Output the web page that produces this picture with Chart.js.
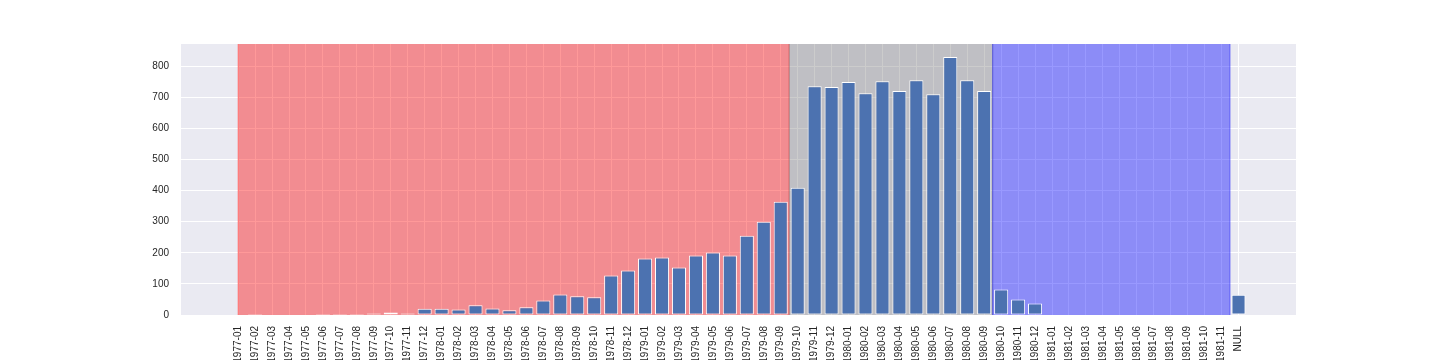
<!DOCTYPE html>
<html>
<head>
<meta charset="utf-8">
<script src="https://cdn.jsdelivr.net/npm/chart.js@4/dist/chart.umd.min.js"></script>
<style>
  html, body { margin: 0; padding: 0; background: #fff; overflow: hidden; }
  #wrap { width: 1440px; height: 360px; }
</style>
</head>
<body>
<div id="wrap"><canvas id="monthChart"></canvas></div>
<script>
const months = [
  '1977-01','1977-02','1977-03','1977-04','1977-05','1977-06','1977-07','1977-08','1977-09','1977-10','1977-11','1977-12',
  '1978-01','1978-02','1978-03','1978-04','1978-05','1978-06','1978-07','1978-08','1978-09','1978-10','1978-11','1978-12',
  '1979-01','1979-02','1979-03','1979-04','1979-05','1979-06','1979-07','1979-08','1979-09','1979-10','1979-11','1979-12',
  '1980-01','1980-02','1980-03','1980-04','1980-05','1980-06','1980-07','1980-08','1980-09','1980-10','1980-11','1980-12',
  '1981-01','1981-02','1981-03','1981-04','1981-05','1981-06','1981-07','1981-08','1981-09','1981-10','1981-11','NULL'
];
const counts = [
  0, 3, 0, 0, 0, 3, 3, 3, 5, 8, 5, 20,
  20, 18, 31, 21, 15, 25, 47, 66, 60, 57, 127, 143,
  182, 185, 153, 191, 201, 191, 255, 300, 364, 409, 736, 733,
  749, 713, 752, 720, 755, 710, 830, 755, 720, 82, 50, 37,
  2, 2, 2, 2, 0, 0, 0, 2, 2, 2, 2, 65
];
const yTicks = [0, 100, 200, 300, 400, 500, 600, 700, 800];

// shaded periods, in category positions
const spanStarts = [0, 32.5, 44.5];
const spanEnds = [32.5, 44.5, 58.5];
const spanColors = ['rgba(255,0,0,0.4)', 'rgba(128,128,128,0.4)', 'rgba(0,0,255,0.4)'];

const tickFont = { family: '"Liberation Sans Narrow", "Arial Narrow", "Liberation Sans", sans-serif', size: 10 };

const plotBackground = {
  id: 'plotBackground',
  beforeDraw(chart) {
    const { ctx, chartArea: a } = chart;
    ctx.save();
    ctx.fillStyle = '#eaeaf2';
    ctx.fillRect(a.left, a.top, a.right - a.left, a.bottom - a.top);
    ctx.restore();
  }
};

const periodSpans = {
  id: 'periodSpans',
  beforeDatasetsDraw(chart) {
    const { ctx, chartArea: a, scales } = chart;
    ctx.save();
    spanStarts.forEach((s, i) => {
      const x0 = scales.x.getPixelForValue(s);
      const x1 = scales.x.getPixelForValue(spanEnds[i]);
      ctx.fillStyle = spanColors[i];
      ctx.fillRect(x0, a.top, x1 - x0, a.bottom - a.top);
      ctx.strokeStyle = spanColors[i];
      ctx.lineWidth = 1;
      ctx.beginPath();
      ctx.moveTo(x0, a.top); ctx.lineTo(x0, a.bottom);
      ctx.moveTo(x1, a.top); ctx.lineTo(x1, a.bottom);
      ctx.stroke();
    });
    ctx.restore();
  }
};

new Chart(document.getElementById('monthChart'), {
  type: 'bar',
  data: {
    datasets: [{
      data: counts.map((v, i) => ({ x: i, y: v })),
      backgroundColor: '#4c72b0',
      borderColor: '#ffffff',
      borderWidth: 1,
      borderSkipped: false,
      categoryPercentage: 1,
      barPercentage: 0.83
    }]
  },
  options: {
    responsive: true,
    maintainAspectRatio: false,
    animation: false,
    layout: { padding: { top: 44, right: 144, left: 0, bottom: 0 } },
    plugins: { legend: { display: false }, tooltip: { enabled: false } },
    scales: {
      x: {
        type: 'linear',
        offset: false,
        min: -3.37,
        max: 62.39,
        afterBuildTicks(scale) { scale.ticks = months.map((_, i) => ({ value: i })); },
        afterFit(scale) { scale.height = 45; },
        border: { display: false },
        grid: { color: '#ffffff', lineWidth: 1, drawTicks: false, offset: false },
        ticks: {
          autoSkip: false,
          minRotation: 90,
          maxRotation: 90,
          padding: 11,
          color: '#262626',
          font: tickFont,
          callback: (v) => months[v]
        }
      },
      y: {
        min: 0,
        max: 871.5,
        afterBuildTicks(scale) { scale.ticks = yTicks.map(v => ({ value: v })); },
        afterFit(scale) { scale.width = 181; },
        border: { display: false },
        grid: { color: '#ffffff', lineWidth: 1, drawTicks: false },
        ticks: { padding: 12, color: '#262626', font: tickFont }
      }
    }
  },
  plugins: [plotBackground, periodSpans]
});
</script>
</body>
</html>
